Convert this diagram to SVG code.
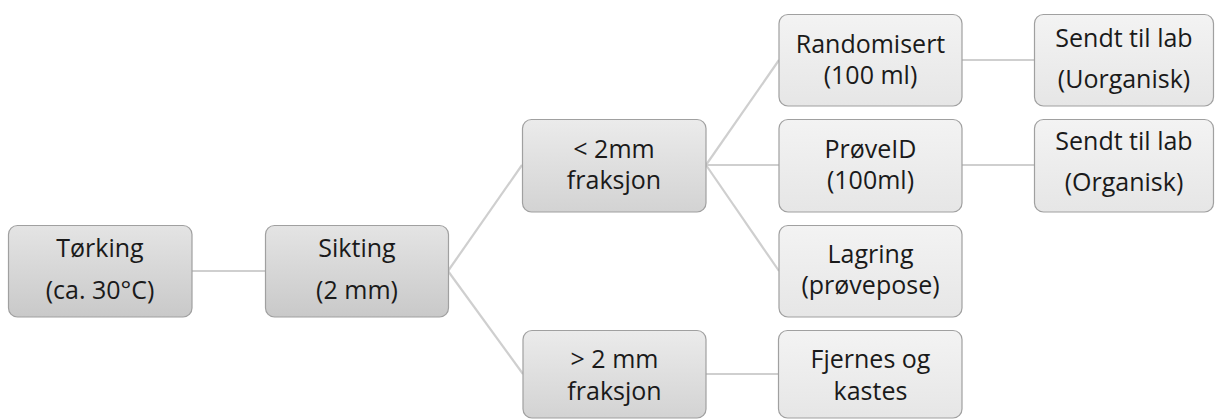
<svg xmlns="http://www.w3.org/2000/svg" width="1215" height="419" viewBox="0 0 1215 419">
<defs>
<linearGradient id="gDark" x1="0" y1="0" x2="0" y2="1">
<stop offset="0" stop-color="#e4e4e4"/>
<stop offset="1" stop-color="#c9c9c9"/>
</linearGradient>
<linearGradient id="gMid" x1="0" y1="0" x2="0" y2="1">
<stop offset="0" stop-color="#ebebeb"/>
<stop offset="1" stop-color="#d3d3d3"/>
</linearGradient>
<linearGradient id="gLight" x1="0" y1="0" x2="0" y2="1">
<stop offset="0" stop-color="#f3f3f3"/>
<stop offset="1" stop-color="#e6e6e6"/>
</linearGradient>
</defs>
<style>
.box{stroke:#a0a0a0;stroke-width:1.2}
.d{fill:url(#gDark)}
.m{fill:url(#gMid)}
.l{fill:url(#gLight)}
text{font-family:"Open Sans","Noto Sans","Liberation Sans",sans-serif;font-size:25px;fill:#1a1a1a;text-anchor:middle}
.conn line{stroke:#cfcfcf;stroke-width:2.2}
</style>
<rect width="1215" height="419" fill="#ffffff"/>
<g class="conn" id="connectors">
<line x1="192" y1="271" x2="265" y2="271"/>
<line x1="448" y1="271" x2="522" y2="165"/>
<line x1="448" y1="271" x2="523" y2="374"/>
<line x1="706" y1="165" x2="779" y2="60"/>
<line x1="706" y1="165" x2="779" y2="165"/>
<line x1="706" y1="165" x2="779" y2="271"/>
<line x1="962" y1="60" x2="1034" y2="60"/>
<line x1="962" y1="165" x2="1034" y2="165"/>
<line x1="706" y1="374" x2="778" y2="374"/>
</g>
<g id="torking">
<rect class="box d" x="8.5" y="225.5" width="183.5" height="91.5" rx="9"/>
<text x="100" y="257">Tørking</text>
<text x="100" y="299">(ca. 30°C)</text>
</g>
<g id="sikting">
<rect class="box d" x="265.5" y="225.5" width="183" height="91.5" rx="9"/>
<text x="357" y="257">Sikting</text>
<text x="357" y="299">(2 mm)</text>
</g>
<g id="lt2mm">
<rect class="box m" x="522.5" y="119.5" width="183.5" height="92.5" rx="9"/>
<text x="614" y="158">&lt; 2mm</text>
<text x="614" y="189">fraksjon</text>
</g>
<g id="gt2mm">
<rect class="box m" x="523" y="330.5" width="183" height="87.5" rx="9"/>
<text x="614.5" y="368">&gt; 2 mm</text>
<text x="614.5" y="400">fraksjon</text>
</g>
<g id="randomisert">
<rect class="box l" x="779" y="14.5" width="183" height="91.5" rx="9"/>
<text x="870.5" y="53">Randomisert</text>
<text x="870.5" y="84">(100 ml)</text>
</g>
<g id="proveid">
<rect class="box l" x="779" y="119.5" width="183" height="92.5" rx="9"/>
<text x="870.5" y="158">PrøveID</text>
<text x="870.5" y="189">(100ml)</text>
</g>
<g id="lagring">
<rect class="box l" x="779" y="225.5" width="183" height="91.5" rx="9"/>
<text x="870.5" y="263">Lagring</text>
<text x="870.5" y="294">(prøvepose)</text>
</g>
<g id="fjernes">
<rect class="box l" x="778.5" y="330.5" width="183.5" height="87.5" rx="9"/>
<text x="870.5" y="368">Fjernes og</text>
<text x="870.5" y="400">kastes</text>
</g>
<g id="uorganisk">
<rect class="box l" x="1034.5" y="14.5" width="179" height="91.5" rx="9"/>
<text x="1124" y="47">Sendt til lab</text>
<text x="1124" y="88">(Uorganisk)</text>
</g>
<g id="organisk">
<rect class="box l" x="1034.5" y="119.5" width="179" height="92.5" rx="9"/>
<text x="1124" y="150">Sendt til lab</text>
<text x="1124" y="191">(Organisk)</text>
</g>
</svg>
